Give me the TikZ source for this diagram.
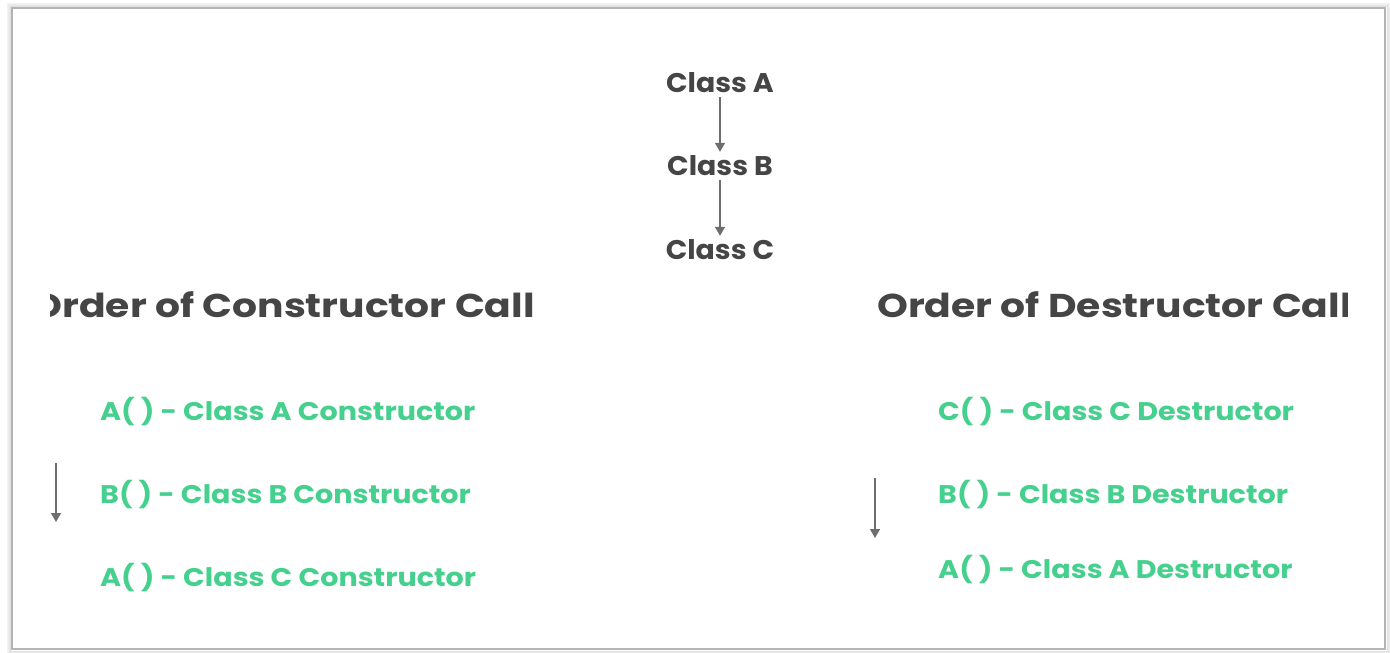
\documentclass[tikz,border=0pt]{standalone}
\usepackage{fontspec}
\setmainfont{Poppins}
\newfontfamily\clsfont{Poppins}[FakeStretch=1.05]
\newfontfamily\hdrfont{Poppins}[FakeStretch=1.19]
\newfontfamily\itemfont{Poppins}[FakeStretch=1.12]
\usetikzlibrary{arrows.meta}
\definecolor{txtgray}{HTML}{454545}
\definecolor{arrgray}{HTML}{6E6E6E}
\definecolor{grn}{HTML}{45D08E}
\definecolor{frame}{HTML}{B4B4B4}
\tikzset{
  cls/.style={inner sep=0pt, anchor=base, text=txtgray, font=\clsfont\fontsize{27}{30}\selectfont\bfseries},
  hdr/.style={inner sep=0pt, text=txtgray, font=\hdrfont\fontsize{33}{38}\selectfont\bfseries},
  item/.style={inner sep=0pt, anchor=base west, text=grn, font=\itemfont\fontsize{25.5}{28}\selectfont\bfseries},
  flow/.style={draw=arrgray, line width=1.3pt, -{Triangle[length=9pt,width=10pt]}},
}
\begin{document}
\begin{tikzpicture}[x=1pt,y=-1pt]
\useasboundingbox (0,0) rectangle (1390,653);
\fill[white] (0,0) rectangle (1390,653);
% frame with soft shadow
\foreach \d/\o in {5/0.05,4/0.07,3/0.09,2/0.12}{
  \draw[black, opacity=\o, line width=1pt] (12-\d,8-\d) rectangle (1385+\d,649+\d);
}
\draw[frame, line width=1.6pt] (12,8) rectangle (1385,649);

% class chain
\node[cls] (ca) at (720,92) {Class A};
\node[cls] (cb) at (720,175) {Class B};
\node[cls] (cc) at (720,259) {Class C};
\draw[flow] ([yshift=-5pt]ca.south) -- ([yshift=3pt]cb.north);
\draw[flow] ([yshift=-5pt]cb.south) -- ([yshift=3pt]cc.north);

% headers (clipped)
\begin{scope}
  \clip (50,270) rectangle (700,340);
  \node[hdr, anchor=base east] (h1) at (535,317) {Order of Constructor Call};
\end{scope}
\begin{scope}
  \clip (700,270) rectangle (1347,340);
  \node[hdr, anchor=base west] (h2) at (877,317) {Order of Destructor Call};
\end{scope}

% constructor list
\node[item] (c1) at (100,420) {A( ) - Class A Constructor};
\node[item] (c2) at (100,503) {B( ) - Class B Constructor};
\node[item] (c3) at (100,586) {A( ) - Class C Constructor};
\coordinate (la) at (56,463);
\coordinate (lb) at (56,522);
\draw[flow] (la) -- (lb);

% destructor list
\node[item] (d1) at (938,420) {C( ) - Class C Destructor};
\node[item] (d2) at (938,503) {B( ) - Class B Destructor};
\node[item] (d3) at (938,578) {A( ) - Class A Destructor};
\coordinate (ra) at (875,478);
\coordinate (rb) at (875,538);
\draw[flow] (ra) -- (rb);
\end{tikzpicture}
\end{document}
